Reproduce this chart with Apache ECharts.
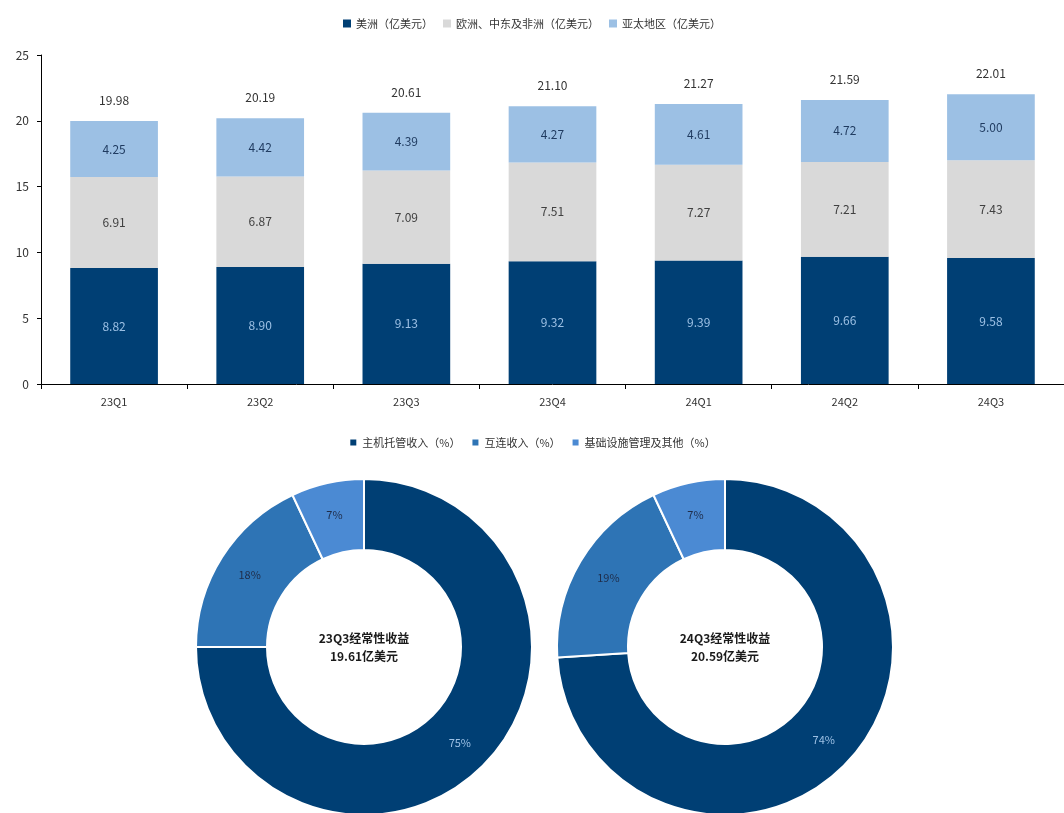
<!DOCTYPE html>
<html>
<head>
<meta charset="utf-8">
<script src="https://cdn.jsdelivr.net/npm/echarts@6/dist/echarts.min.js"></script>
<style>
  html, body { margin: 0; padding: 0; background: #ffffff; }
  #chart { width: 1064px; height: 813px; }
</style>
</head>
<body>
<div id="chart"></div>
<script>
// Quarterly revenue by region (亿美元)
const quarters = ['23Q1', '23Q2', '23Q3', '23Q4', '24Q1', '24Q2', '24Q3'];
const americas = [8.82, 8.90, 9.13, 9.32, 9.39, 9.66, 9.58];
const emea = [6.91, 6.87, 7.09, 7.51, 7.27, 7.21, 7.43];
const apac = [4.25, 4.42, 4.39, 4.27, 4.61, 4.72, 5.00];
const totals = [19.98, 20.19, 20.61, 21.10, 21.27, 21.59, 22.01];
const yTicks = [0, 5, 10, 15, 20, 25];

// Recurring revenue mix (%)
const mixNames = ['主机托管收入（%）', '互连收入（%）', '基础设施管理及其他（%）'];
const mix23Q3 = [75, 18, 7];
const mix24Q3 = [74, 19, 7];
const centerLabels = ['23Q3经常性收益\n19.61亿美元', '24Q3经常性收益\n20.59亿美元'];

const barNames = ['美洲（亿美元）', '欧洲、中东及非洲（亿美元）', '亚太地区（亿美元）'];
const navy = '#003f74';
const grey = '#d9d9d9';
const lightBlue = '#9cc0e4';
const midBlue = '#2e74b5';
const skyBlue = '#4b8ad3';
const font = '"Noto Sans CJK SC", "Noto Sans", sans-serif';

const chart = echarts.init(document.getElementById('chart'), null, { renderer: 'canvas' });

function barSeries(name, data, color, labelColor) {
  return {
    name: name, type: 'bar', stack: 'total', data: data,
    barWidth: '60%', xAxisIndex: 0, yAxisIndex: 0,
    itemStyle: { color: color },
    label: {
      show: true, position: 'inside', color: labelColor,
      fontSize: 12, fontFamily: font,
      formatter: p => p.value.toFixed(2)
    }
  };
}

function donut(name, data, cx) {
  return {
    name: name, type: 'pie', center: [cx, 647], radius: [97, 168],
    startAngle: 90, clockwise: true,
    itemStyle: { borderColor: '#ffffff', borderWidth: 2 },
    label: {
      show: true, position: 'inside', fontSize: 11, fontFamily: font,
      formatter: p => p.value + '%'
    },
    labelLine: { show: false },
    emphasis: { disabled: true },
    data: data.map((v, i) => ({
      name: mixNames[i], value: v,
      itemStyle: { color: [navy, midBlue, skyBlue][i] },
      label: { color: i === 0 ? '#9cc0e4' : '#1f2d4a' }
    }))
  };
}

function centerText(text, cx) {
  return {
    type: 'text',
    position: [cx, 647],
    style: {
      text: text, x: 0, y: 0,
      align: 'center', verticalAlign: 'middle',
      font: 'bold 12px ' + font, fill: '#1a1a1a', lineHeight: 18
    }
  };
}

chart.setOption({
  animation: false,
  textStyle: { fontFamily: font },
  legend: [
    {
      data: barNames, top: 13, left: 'center',
      itemWidth: 8, itemHeight: 8, itemGap: 10, icon: 'rect',
      textStyle: { fontSize: 11, color: '#333333', fontFamily: font }
    },
    {
      data: mixNames, top: 432, left: 'center',
      itemWidth: 8, itemHeight: 8, itemGap: 10, icon: 'rect',
      textStyle: { fontSize: 11, color: '#333333', fontFamily: font }
    }
  ],
  grid: { left: 41, right: 0, top: 55, height: 329 },
  xAxis: {
    type: 'category', data: quarters,
    axisLine: { lineStyle: { color: '#000000', width: 1 } },
    axisTick: { show: true, lineStyle: { color: '#000000' }, length: 5 },
    axisLabel: { color: '#333333', fontSize: 11, margin: 12 }
  },
  yAxis: {
    type: 'value', min: 0, max: 25, interval: 5,
    axisLine: { show: true, lineStyle: { color: '#000000', width: 1 } },
    axisTick: { show: true, lineStyle: { color: '#000000' }, length: 4 },
    axisLabel: {
      color: '#333333', fontSize: 12, margin: 12,
      formatter: v => (yTicks.includes(v) ? String(v) : '')
    },
    splitLine: { show: false }
  },
  series: [
    barSeries(barNames[0], americas, navy, '#9cc0e4'),
    barSeries(barNames[1], emea, grey, '#404040'),
    barSeries(barNames[2], apac, lightBlue, '#1f3a5f'),
    {
      name: '合计', type: 'line', data: totals,
      symbol: 'circle', symbolSize: 1, showSymbol: true,
      itemStyle: { color: 'rgba(0,0,0,0)' },
      lineStyle: { width: 0, opacity: 0 }, silent: true,
      label: {
        show: true, position: 'top', distance: 14,
        color: '#333333', fontSize: 12, fontFamily: font,
        formatter: p => p.value.toFixed(2)
      }
    },
    donut('23Q3', mix23Q3, 364),
    donut('24Q3', mix24Q3, 725)
  ],
  graphic: [
    centerText(centerLabels[0], 364),
    centerText(centerLabels[1], 725)
  ]
});
</script>
</body>
</html>
